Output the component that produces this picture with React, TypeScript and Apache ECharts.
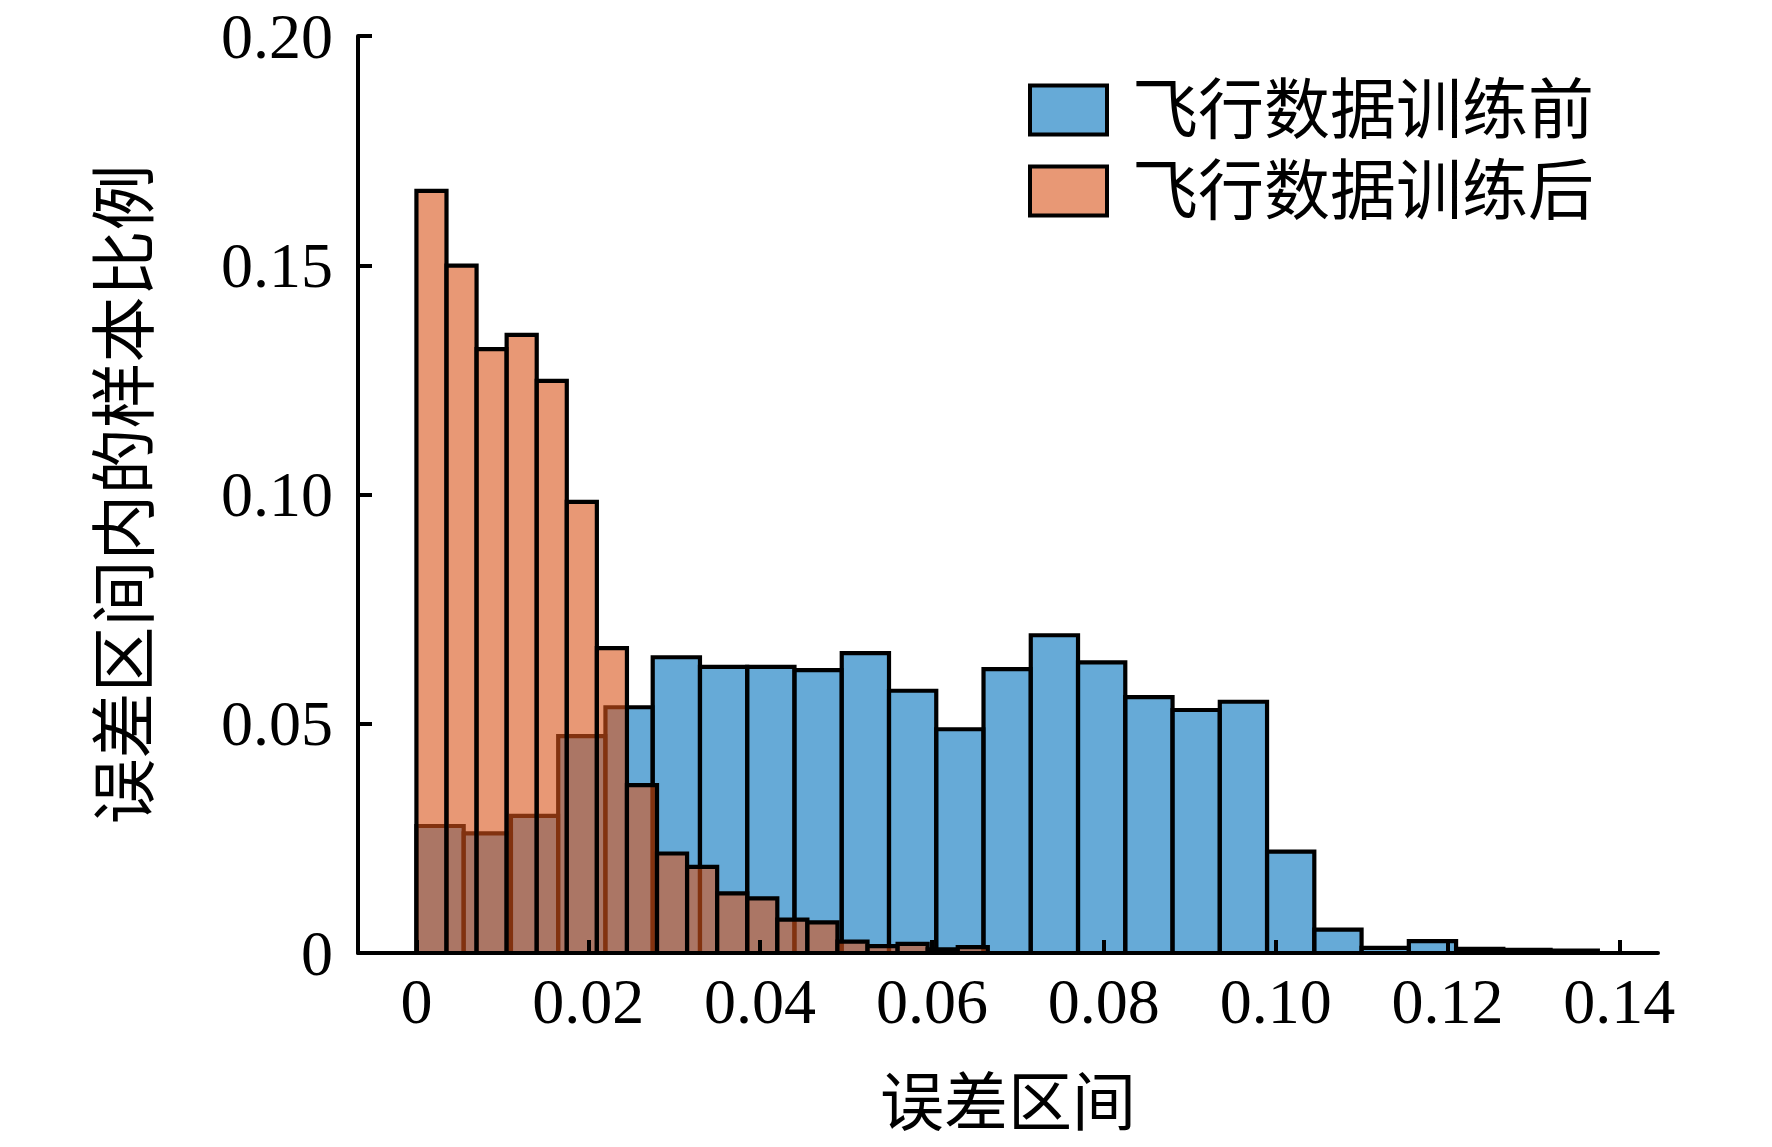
import React, { useEffect, useRef } from "react";
import * as echarts from "echarts";

// ---- data ----
const seriesNames = ["飞行数据训练前", "飞行数据训练后"];
const beforeBinWidth = 0.0055;
const afterBinWidth = 0.0035;
const beforeValues = [
  0.0277, 0.0261, 0.0299, 0.0473, 0.0536, 0.0645, 0.0624, 0.0624, 0.0617, 0.0654,
  0.0572, 0.0488, 0.0619, 0.0693, 0.0634, 0.0558, 0.0530, 0.0548, 0.0221, 0.0051,
  0.0011, 0.0026, 0.0009, 0.0007, 0.0005,
];
const afterValues = [
  0.1662, 0.1499, 0.1317, 0.1348, 0.1248, 0.0984, 0.0665, 0.0366, 0.0217, 0.0188,
  0.0130, 0.0119, 0.0073, 0.0067, 0.0025, 0.0015, 0.0020, 0.0008, 0.0013,
];
const xTicks = [0, 0.02, 0.04, 0.06, 0.08, 0.1, 0.12, 0.14];
const xTitle = "误差区间";
const yTitle = "误差区间内的样本比例";

const FONT = "'Times New Roman', 'Liberation Serif', 'Noto Sans CJK SC', serif";
const BLUE = "rgba(0,114,189,0.6)";
const ORANGE = "rgba(217,83,25,0.6)";

function bins(values: number[], width: number) {
  return values.map((v, i) => [i * width, (i + 1) * width, v]);
}

function makeRender(fill: string) {
  return (params: any, api: any) => {
    const x0 = api.value(0);
    const x1 = api.value(1);
    const v = api.value(2);
    const p0 = api.coord([x0, v]);
    const p1 = api.coord([x1, 0]);
    return {
      type: "rect",
      shape: { x: p0[0], y: p0[1], width: p1[0] - p0[0], height: p1[1] - p0[1] },
      style: { fill, stroke: "#000", lineWidth: 4.2 },
    };
  };
}

const fmt = (v: number) => (v === 0 ? "0" : v.toFixed(2));

export default function App() {
  const ref = useRef<HTMLDivElement>(null);
  useEffect(() => {
    if (!ref.current) return;
    const chart = echarts.init(ref.current, null, { renderer: "svg" });
    chart.setOption({
      animation: false,
      backgroundColor: "#fff",
      grid: { left: 358, right: 114, top: 36, bottom: 194 },
      legend: {
        orient: "vertical",
        left: 1028,
        top: 77,
        padding: 0,
        itemWidth: 77,
        itemHeight: 49,
        itemGap: 15,
        icon: "rect",
        textStyle: {
          fontFamily: FONT,
          fontSize: 66,
          lineHeight: 66,
          color: "#000",
          padding: [0, 0, 0, 20],
        },
        data: [
          { name: seriesNames[0], itemStyle: { color: BLUE, borderColor: "#000", borderWidth: 4 } },
          { name: seriesNames[1], itemStyle: { color: ORANGE, borderColor: "#000", borderWidth: 4 } },
        ],
      },
      xAxis: {
        type: "value",
        z: 10,
        min: -0.0068,
        max: 0.1445,
        name: xTitle,
        nameLocation: "middle",
        nameGap: 118,
        nameTextStyle: { fontFamily: FONT, fontSize: 64, color: "#000" },
        axisLine: { show: true, onZero: false, lineStyle: { color: "#000", width: 4 } },
        axisTick: {
          show: true,
          inside: true,
          length: 13,
          customValues: xTicks,
          lineStyle: { color: "#000", width: 4 },
        },
        axisLabel: {
          show: true,
          customValues: xTicks,
          formatter: fmt,
          margin: 16,
          fontFamily: FONT,
          fontSize: 64,
          color: "#000",
        },
        splitLine: { show: false },
      },
      yAxis: {
        type: "value",
        z: 10,
        min: 0,
        max: 0.2,
        interval: 0.05,
        name: yTitle,
        nameLocation: "middle",
        nameGap: 200,
        nameTextStyle: { fontFamily: FONT, fontSize: 66, color: "#000" },
        axisLine: { show: true, onZero: false, lineStyle: { color: "#000", width: 4 } },
        axisTick: { show: true, inside: true, length: 14, lineStyle: { color: "#000", width: 4 } },
        axisLabel: {
          formatter: fmt,
          margin: 25,
          fontFamily: FONT,
          fontSize: 64,
          color: "#000",
        },
        splitLine: { show: false },
      },
      series: [
        {
          name: seriesNames[0],
          type: "custom",
          z: 2,
          itemStyle: { color: BLUE, borderColor: "#000", borderWidth: 4 },
          renderItem: makeRender(BLUE),
          encode: { x: [0, 1], y: 2 },
          data: bins(beforeValues, beforeBinWidth),
        },
        {
          name: seriesNames[1],
          type: "custom",
          z: 3,
          itemStyle: { color: ORANGE, borderColor: "#000", borderWidth: 4 },
          renderItem: makeRender(ORANGE),
          encode: { x: [0, 1], y: 2 },
          data: bins(afterValues, afterBinWidth),
        },
      ],
    });
    return () => chart.dispose();
  }, []);
  return (
    <div
      ref={ref}
      style={{ position: "fixed", left: 0, top: 0, width: 1772, height: 1147, background: "#fff" }}
    />
  );
}
